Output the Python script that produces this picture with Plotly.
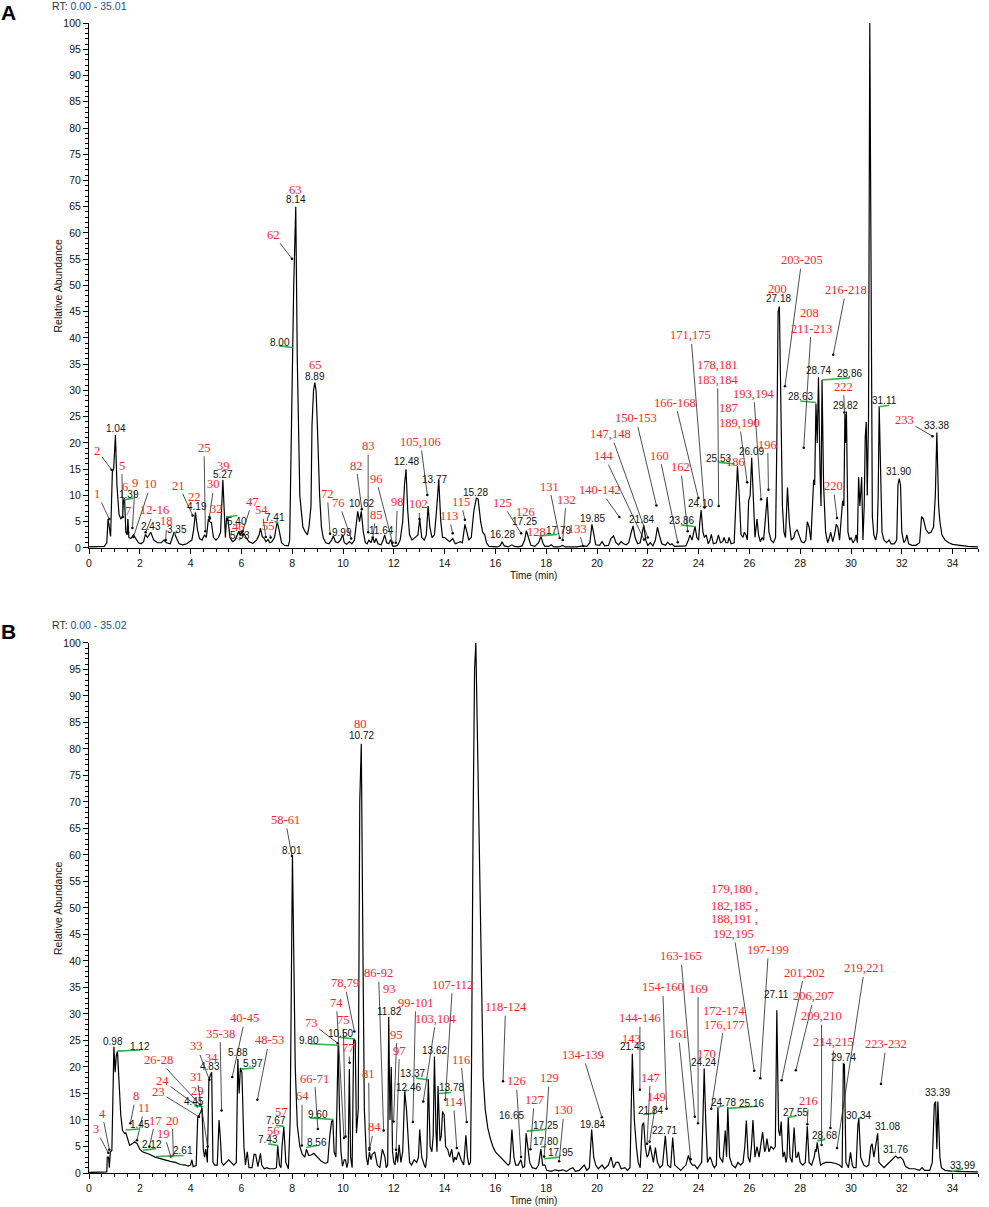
# -*- coding: utf-8 -*-
"""Two total ion chromatograms (A and B) with peak RT labels and compound numbers."""

import plotly.graph_objects as go

FIG_WIDTH = 989
FIG_HEIGHT = 1207

BLACK = "#111111"
RED = "#ff1f1f"
GREEN = "#2eb24a"
BLUE = "#2b4b9a"
SANS = "Liberation Sans, Arial, sans-serif"
SERIF = "Liberation Serif, Times New Roman, serif"

# ---------------------------------------------------------------- panel A data
TIME_A = [
    0.0, 0.3, 0.6, 0.7, 0.75, 0.8, 0.85, 0.92, 0.97, 1.04, 1.1, 1.18, 1.25, 1.32, 1.36, 1.4, 1.45, 1.5,
    1.53, 1.57, 1.65, 1.75, 1.85, 1.95, 2.05, 2.15, 2.22, 2.3, 2.43, 2.55, 2.7, 2.85, 2.95, 3.05, 3.2,
    3.35, 3.45, 3.55, 3.7, 3.85, 3.95, 4.05, 4.12, 4.19, 4.27, 4.35, 4.45, 4.55, 4.62, 4.7, 4.76, 4.82,
    4.9, 5.0, 5.1, 5.18, 5.27, 5.33, 5.37, 5.42, 5.48, 5.55, 5.65, 5.75, 5.85, 5.9, 5.95, 6.0, 6.05,
    6.1, 6.18, 6.3, 6.45, 6.6, 6.7, 6.75, 6.82, 6.9, 6.97, 7.05, 7.12, 7.2, 7.3, 7.41, 7.5, 7.58, 7.7,
    7.85, 7.9, 7.95, 8.0, 8.02, 8.06, 8.14, 8.2, 8.3, 8.42, 8.52, 8.6, 8.66, 8.7, 8.74, 8.78, 8.84,
    8.89, 8.94, 9.0, 9.08, 9.15, 9.22, 9.32, 9.45, 9.55, 9.62, 9.7, 9.8, 9.9, 9.99, 10.05, 10.15,
    10.25, 10.35, 10.45, 10.52, 10.58, 10.65, 10.72, 10.8, 10.88, 10.95, 11.02, 11.1, 11.17, 11.24,
    11.3, 11.38, 11.5, 11.58, 11.64, 11.72, 11.8, 11.88, 11.95, 12.05, 12.15, 12.25, 12.35, 12.42,
    12.48, 12.55, 12.62, 12.72, 12.85, 12.95, 13.02, 13.1, 13.2, 13.28, 13.35, 13.42, 13.5, 13.6,
    13.68, 13.77, 13.85, 13.92, 14.0, 14.1, 14.2, 14.32, 14.42, 14.52, 14.62, 14.7, 14.8, 14.88,
    14.95, 15.05, 15.15, 15.25, 15.32, 15.42, 15.5, 15.58, 15.65, 15.75, 15.9, 16.1, 16.2, 16.26,
    16.35, 16.5, 16.65, 16.75, 16.9, 17.05, 17.15, 17.22, 17.3, 17.4, 17.55, 17.7, 17.79, 17.88,
    17.95, 18.1, 18.2, 18.3, 18.5, 18.65, 18.75, 19.0, 19.2, 19.45, 19.6, 19.72, 19.8, 19.88, 19.95,
    20.1, 20.2, 20.3, 20.45, 20.55, 20.65, 20.75, 20.85, 20.95, 21.05, 21.15, 21.25, 21.35, 21.42,
    21.5, 21.6, 21.7, 21.78, 21.84, 21.92, 22.0, 22.1, 22.2, 22.3, 22.38, 22.45, 22.55, 22.7, 22.78,
    22.88, 22.95, 23.05, 23.3, 23.5, 23.6, 23.66, 23.74, 23.8, 23.86, 23.93, 24.0, 24.05, 24.1,
    24.17, 24.23, 24.3, 24.38, 24.45, 24.5, 24.58, 24.7, 24.78, 24.86, 24.95, 25.0, 25.08, 25.15,
    25.2, 25.28, 25.4, 25.47, 25.53, 25.6, 25.67, 25.75, 25.8, 25.86, 25.92, 25.97, 26.03, 26.09,
    26.16, 26.22, 26.3, 26.36, 26.43, 26.5, 26.56, 26.63, 26.7, 26.77, 26.85, 26.95, 27.03, 27.08,
    27.13, 27.18, 27.24, 27.3, 27.36, 27.42, 27.5, 27.57, 27.65, 27.75, 27.8, 27.88, 27.95, 28.05,
    28.15, 28.22, 28.28, 28.35, 28.42, 28.48, 28.53, 28.57, 28.62, 28.67, 28.72, 28.78, 28.82, 28.86,
    28.92, 29.0, 29.08, 29.15, 29.2, 29.28, 29.35, 29.42, 29.48, 29.55, 29.62, 29.67, 29.72, 29.76,
    29.79, 29.82, 29.88, 29.95, 30.0, 30.08, 30.15, 30.2, 30.25, 30.3, 30.35, 30.42, 30.47, 30.52,
    30.56, 30.6, 30.64, 30.69, 30.74, 30.79, 30.84, 30.9, 30.97, 31.03, 31.07, 31.11, 31.16, 31.22,
    31.3, 31.4, 31.5, 31.58, 31.7, 31.8, 31.85, 31.9, 31.95, 32.0, 32.08, 32.15, 32.2, 32.27, 32.4,
    32.55, 32.7, 32.78, 32.85, 32.95, 33.05, 33.15, 33.25, 33.32, 33.38, 33.45, 33.5, 33.58, 33.7,
    33.85, 34.0, 34.3, 34.6, 35.0,
]
ABUND_A = [
    0.2, 0.2, 0.3, 1.0, 5.5, 4.0, 2.2, 14.5, 15.0, 21.5, 12.0, 6.5, 5.5, 6.0, 9.2, 9.5, 3.0, 2.5,
    5.5, 2.0, 1.8, 2.5, 1.6, 1.0, 0.8, 1.2, 2.6, 2.0, 3.0, 1.5, 1.0, 1.0, 1.5, 1.0, 0.8,
    3.0, 1.8, 0.8, 0.6, 0.8, 1.2, 1.5, 3.5, 6.8, 3.5, 1.8, 1.5, 2.5, 2.0, 5.5, 5.0, 4.8,
    2.0, 1.5, 2.0, 3.0, 13.0, 4.0, 2.0, 6.0, 5.0, 2.0, 1.2, 1.5, 2.5, 3.2, 2.5, 3.0, 2.2,
    2.8, 2.0, 1.2, 0.9, 1.5, 2.5, 3.8, 2.2, 1.8, 1.2, 1.6, 1.0, 1.2, 2.0, 5.0, 3.0, 1.0, 0.5,
    0.4, 1.5, 20.0, 36.0, 35.5, 50.0, 65.0, 36.0, 10.0, 4.0, 3.0, 2.5, 4.0, 6.5, 8.0, 23.5, 30.0,
    31.5, 30.0, 22.0, 10.0, 4.0, 2.0, 1.0, 0.8, 1.5, 2.3, 1.2, 1.0, 1.5, 2.5, 1.0, 0.7,
    1.2, 0.8, 1.5, 5.0, 7.0, 5.0, 7.0, 3.0, 1.0, 0.8, 1.5, 1.0, 2.0, 1.0,
    1.8, 0.8, 0.6, 1.5, 2.5, 1.0, 0.8, 1.6, 0.4, 0.3, 0.5, 1.5, 5.0, 12.0,
    15.0, 7.0, 2.5, 1.5, 2.0, 2.5, 5.5, 2.0, 1.5, 2.5, 8.0, 4.0, 2.0, 2.5,
    7.0, 13.0, 5.0, 2.0, 2.0, 1.5, 1.2, 1.8, 0.8, 1.0, 1.2, 1.0, 4.5, 3.0,
    1.5, 2.0, 7.0, 9.5, 9.3, 5.0, 3.0, 2.5, 1.0, 0.3, 0.2, 0.2, 0.5, 1.2,
    0.4, 0.2, 0.6, 0.3, 0.2, 0.4, 1.5, 3.3, 2.0, 0.5, 0.3, 1.0, 2.2, 0.8,
    0.3, 0.3, 0.6, 0.2, 0.2, 0.5, 0.2, 0.2, 0.2, 0.4, 0.3, 1.0, 4.5, 2.5, 0.6,
    0.5, 1.2, 0.4, 0.5, 1.8, 2.3, 1.0, 0.6, 1.2, 0.8, 0.6, 1.0, 3.0, 4.2,
    2.0, 0.8, 1.0, 3.0, 4.3, 1.5, 0.5, 1.0, 0.4, 1.5, 4.0, 2.5, 0.8, 0.5, 1.1,
    0.6, 0.8, 0.3, 0.3, 0.4, 1.5, 2.5, 1.5, 3.0, 4.1, 2.0, 1.5, 5.0, 7.2,
    3.0, 2.0, 2.5, 0.8, 1.5, 2.6, 0.8, 1.0, 2.5, 1.0, 1.2, 2.0, 1.0, 1.0,
    2.0, 0.8, 1.0, 8.0, 15.6, 10.0, 2.5, 2.0, 3.0, 2.5, 1.5, 9.0, 10.0, 17.2,
    8.0, 2.0, 5.5, 2.5, 1.2, 2.0, 1.5, 6.0, 9.7, 3.0, 1.5, 1.0, 2.0, 20.0,
    45.0, 46.0, 30.0, 8.0, 3.0, 2.0, 11.5, 5.0, 1.5, 2.0, 3.0, 3.5, 2.5, 1.2,
    1.0, 1.5, 5.0, 4.0, 1.5, 9.0, 13.0, 12.0, 27.5, 20.0, 32.5, 15.0, 8.0, 32.0,
    12.0, 3.0, 1.0, 2.0, 3.0, 1.2, 2.5, 4.5, 4.0, 1.5, 6.0, 9.0, 8.0, 25.5,
    20.0, 26.0, 3.0, 1.5, 2.0, 1.0, 1.5, 2.5, 1.0, 13.5, 8.0, 13.5, 1.5, 8.0,
    21.0, 24.0, 10.0, 25.0, 100.0, 40.0, 6.0, 2.5, 1.5, 3.0, 10.0, 27.0, 15.0, 3.0,
    1.5, 1.0, 1.5, 0.8, 0.8, 1.5, 12.0, 13.2, 12.0, 3.0, 1.0, 1.5, 2.5, 0.8, 0.5,
    0.5, 1.0, 6.0, 5.5, 3.5, 2.8, 3.0, 4.0, 10.0, 22.0, 8.0, 5.0, 2.5, 1.5,
    1.0, 0.7, 0.5, 0.3, 0.2,
]

# peak retention-time labels: (text, time, abundance)
RT_LABELS_A = [
    ("1.04", 1.06, 22.7), ("1.39", 1.57, 10.2), ("2.43", 2.43, 4.1), ("3.35", 3.45, 3.6),
    ("4.19", 4.24, 7.9), ("5.27", 5.29, 14.0), ("5.40", 5.84, 5.1), ("5.93", 5.94, 2.4),
    ("7.41", 7.32, 5.8), ("8.00", 7.52, 39.1), ("8.14", 8.14, 66.3), ("8.89", 8.90, 32.7),
    ("9.99", 9.98, 2.9), ("10.62", 10.74, 8.5), ("11.64", 11.50, 3.3), ("12.48", 12.49, 16.5),
    ("13.77", 13.60, 13.1), ("15.28", 15.23, 10.6), ("16.28", 16.26, 2.5), ("17.25", 17.14, 5.0),
    ("17.79", 18.48, 3.3), ("19.85", 19.81, 5.7), ("21.84", 21.75, 5.5), ("23.86", 23.31, 5.2),
    ("24.10", 24.06, 8.5), ("25.53", 24.79, 17.0), ("26.09", 26.07, 18.4), ("27.18", 27.14, 47.5),
    ("28.63", 28.01, 28.8), ("28.74", 28.71, 33.8), ("28.86", 29.96, 33.2), ("29.82", 29.80, 27.2),
    ("30.74", 30.72, 101.2), ("31.11", 31.31, 28.0), ("31.90", 31.88, 14.6), ("33.38", 33.37, 23.3),
]

# compound numbers: (text, label time, label abundance, pointer time, pointer abundance)
COMPOUNDS_A = [
    ("1", 0.33, 10.3, 0.80, 5.5), ("2", 0.33, 18.5, 0.89, 14.9), ("5", 1.29, 15.7, 1.33, 5.9),
    ("6", 1.43, 11.7, None, None), ("7", 1.52, 7.0, 1.54, 2.9), ("9", 1.82, 12.4, 1.71, 3.8),
    ("10", 2.43, 12.1, 1.75, 2.1), ("12-16", 2.58, 7.2, 2.23, 3.0), ("18", 3.06, 5.1, 3.02, 1.5),
    ("21", 3.54, 11.9, 4.08, 6.2), ("22", 4.15, 9.7, None, None), ("25", 4.53, 19.1, 4.58, 3.2),
    ("30", 4.92, 12.1, 4.74, 5.9), ("32", 5.00, 7.4, 4.76, 5.6), ("39", 5.28, 15.6, None, None),
    ("46", 5.88, 4.0, None, None), ("47", 6.43, 8.8, 6.05, 3.2), ("54", 6.81, 7.2, 6.96, 2.1),
    ("55", 7.07, 4.2, 7.15, 2.0), ("62", 7.26, 59.7, 7.99, 55.1), ("63", 8.14, 68.2, None, None),
    ("65", 8.90, 34.8, None, None), ("72", 9.38, 10.3, 9.49, 2.7), ("76", 9.84, 8.6, 10.32, 1.8),
    ("82", 10.52, 15.7, 10.74, 7.4), ("83", 10.99, 19.4, 10.99, 3.0), ("85", 11.30, 6.3, 11.17, 2.0),
    ("96", 11.30, 13.2, 11.95, 1.0), ("98", 12.14, 8.7, 12.08, 1.0), ("102", 12.99, 8.3, 13.01, 5.5),
    ("105,106", 13.05, 20.2, 13.32, 10.1), ("113", 14.16, 6.1, 14.32, 2.8),
    ("115", 14.64, 8.8, 14.80, 5.4), ("125", 16.26, 8.6, 17.01, 2.8), ("126", 17.18, 6.8, None, None),
    ("128", 17.62, 3.0, None, None), ("131", 18.12, 11.7, 18.53, 1.9), ("132", 18.79, 9.2, 18.65, 1.5),
    ("133", 19.25, 3.7, 19.45, 0.4), ("140-142", 20.13, 11.0, 20.88, 5.9),
    ("144", 20.29, 17.5, 21.85, 1.6), ("147,148", 20.55, 21.7, 22.00, 2.0),
    ("150-153", 21.53, 24.7, 22.34, 8.1), ("160", 22.46, 17.6, 23.18, 1.1),
    ("162", 23.29, 15.4, 23.57, 3.2), ("166-168", 23.08, 27.7, 23.99, 9.5),
    ("171,175", 23.70, 40.5, 24.23, 7.7), ("178,181", 24.75, 34.9, None, None),
    ("183,184", 24.75, 32.0, 24.79, 8.0), ("187", 25.19, 26.7, None, None),
    ("189,190", 25.61, 23.8, 25.91, 12.5), ("186", 25.44, 16.3, None, None),
    ("193,194", 26.17, 29.4, 26.46, 9.3), ("196", 26.72, 19.7, 26.75, 11.1),
    ("200", 27.11, 49.4, None, None), ("203-205", 28.06, 54.8, 27.40, 30.8),
    ("208", 28.36, 44.7, None, None), ("211-213", 28.43, 41.8, 28.14, 19.1),
    ("216-218", 29.80, 49.1, 29.30, 36.8), ("222", 29.71, 30.7, 29.74, 25.8),
    ("220", 29.30, 11.8, 29.45, 5.7), ("233", 32.10, 24.4, 33.21, 21.3),
]

# green baseline ticks left by the peak labeller: (t0, a0, t1, a1)
GREEN_A = [
    (1.39, 9.2, 1.75, 9.5), (3.35, 2.6, 3.45, 3.0), (5.39, 5.9, 5.84, 6.2), (5.90, 1.5, 6.00, 2.0),
    (7.30, 5.1, 7.45, 4.8), (7.49, 38.5, 8.02, 38.2), (17.73, 2.3, 18.44, 2.6),
    (23.31, 4.4, 23.84, 4.1), (24.80, 16.3, 25.44, 16.0), (28.00, 28.0, 28.62, 27.7),
    (28.85, 32.0, 29.96, 32.4), (31.09, 26.9, 31.51, 27.2),
]

# ---------------------------------------------------------------- panel B data
TIME_B = [
    0.0, 0.3, 0.6, 0.7, 0.72, 0.77, 0.8, 0.84, 0.9, 0.95, 0.98, 1.03, 1.07, 1.12, 1.18, 1.25, 1.32,
    1.4, 1.45, 1.52, 1.6, 1.7, 1.8, 1.9, 2.0, 2.1, 2.25, 2.4, 2.6, 2.8, 3.0, 3.2, 3.4, 3.6, 3.8, 3.9,
    4.0, 4.05, 4.1, 4.22, 4.28, 4.35, 4.4, 4.45, 4.5, 4.55, 4.6, 4.66, 4.72, 4.78, 4.83, 4.88, 4.95,
    5.05, 5.12, 5.18, 5.22, 5.3, 5.42, 5.5, 5.6, 5.7, 5.8, 5.86, 5.91, 5.96, 6.02, 6.1, 6.16, 6.23,
    6.3, 6.42, 6.5, 6.56, 6.65, 6.75, 6.8, 6.9, 7.0, 7.1, 7.2, 7.3, 7.38, 7.43, 7.5, 7.56, 7.6, 7.67,
    7.75, 7.85, 7.92, 7.96, 8.01, 8.06, 8.12, 8.2, 8.3, 8.4, 8.5, 8.56, 8.65, 8.75, 8.85, 8.95, 9.05,
    9.15, 9.3, 9.4, 9.48, 9.55, 9.6, 9.65, 9.72, 9.77, 9.81, 9.86, 9.92, 9.98, 10.05, 10.1, 10.15,
    10.2, 10.25, 10.3, 10.36, 10.42, 10.48, 10.53, 10.6, 10.66, 10.72, 10.78, 10.84, 10.92, 10.98,
    11.04, 11.1, 11.15, 11.25, 11.35, 11.45, 11.55, 11.65, 11.7, 11.76, 11.8, 11.85, 11.9, 11.95,
    12.0, 12.05, 12.1, 12.15, 12.21, 12.28, 12.35, 12.43, 12.5, 12.55, 12.62, 12.7, 12.8, 12.9,
    12.97, 13.02, 13.1, 13.2, 13.25, 13.3, 13.36, 13.43, 13.5, 13.55, 13.6, 13.66, 13.7, 13.74,
    13.82, 13.87, 13.92, 13.98, 14.04, 14.12, 14.2, 14.28, 14.35, 14.4, 14.46, 14.55, 14.65, 14.75,
    14.84, 14.9, 14.96, 15.02, 15.06, 15.12, 15.18, 15.23, 15.27, 15.32, 15.38, 15.45, 15.52, 15.6,
    15.7, 15.8, 15.9, 16.0, 16.1, 16.2, 16.3, 16.4, 16.5, 16.57, 16.65, 16.73, 16.8, 16.9, 17.0,
    17.08, 17.15, 17.21, 17.28, 17.35, 17.45, 17.6, 17.7, 17.79, 17.86, 17.95, 18.02, 18.2, 18.35,
    18.5, 18.65, 18.8, 18.95, 19.05, 19.15, 19.3, 19.5, 19.6, 19.7, 19.79, 19.87, 19.95, 20.05, 20.2,
    20.3, 20.45, 20.55, 20.65, 20.75, 20.85, 20.95, 21.1, 21.2, 21.3, 21.39, 21.47, 21.55, 21.62,
    21.7, 21.78, 21.84, 21.9, 21.97, 22.03, 22.09, 22.15, 22.22, 22.3, 22.38, 22.48, 22.58, 22.69,
    22.78, 22.9, 22.98, 23.06, 23.2, 23.3, 23.4, 23.5, 23.6, 23.68, 23.76, 23.85, 23.95, 24.05,
    24.12, 24.17, 24.22, 24.28, 24.35, 24.45, 24.5, 24.56, 24.62, 24.7, 24.76, 24.83, 24.9, 24.95,
    25.0, 25.05, 25.1, 25.15, 25.22, 25.32, 25.45, 25.55, 25.65, 25.75, 25.82, 25.88, 25.95, 26.02,
    26.08, 26.14, 26.22, 26.3, 26.38, 26.52, 26.6, 26.64, 26.69, 26.77, 26.85, 26.95, 27.02, 27.08,
    27.15, 27.2, 27.25, 27.32, 27.38, 27.44, 27.48, 27.53, 27.6, 27.68, 27.76, 27.83, 27.88, 27.93,
    28.0, 28.1, 28.2, 28.28, 28.35, 28.45, 28.55, 28.6, 28.63, 28.67, 28.75, 28.8, 28.9, 29.0, 29.2,
    29.4, 29.55, 29.65, 29.7, 29.74, 29.8, 29.9, 29.98, 30.05, 30.1, 30.2, 30.27, 30.31, 30.38, 30.5,
    30.6, 30.7, 30.78, 30.83, 30.9, 30.98, 31.05, 31.1, 31.2, 31.3, 31.4, 31.5, 31.6, 31.7, 31.76,
    31.85, 31.95, 32.05, 32.15, 32.3, 32.5, 32.7, 32.8, 32.9, 33.1, 33.2, 33.28, 33.33, 33.38, 33.42,
    33.5, 33.56, 33.7, 34.0, 34.5, 35.0,
]
ABUND_B = [
    0.1, 0.1, 0.1, 0.2, 3.0, 3.0, 1.0, 4.0, 4.2, 23.5, 23.8, 19.0, 22.0, 23.0, 17.0, 11.0, 8.0,
    7.5, 7.6, 6.5, 5.2, 5.5, 5.9, 5.5, 4.5, 4.0, 3.8, 3.5, 3.0, 2.7, 2.4, 2.2, 2.0, 1.6, 1.5, 1.3,
    1.5, 2.5, 1.2, 1.4, 10.5, 11.0, 11.5, 12.3, 4.5, 3.0, 4.5, 2.0, 17.5, 18.5, 19.0, 2.0, 1.5,
    1.5, 10.0, 6.0, 2.0, 1.5, 2.0, 2.5, 2.0, 1.5, 2.0, 21.5, 15.0, 19.8, 19.0, 5.0, 1.5, 4.0,
    1.0, 1.0, 3.5, 3.5, 1.2, 3.7, 1.5, 0.8, 1.0, 0.8, 0.8, 0.8, 1.0, 5.2, 1.5, 1.0, 5.0, 8.7,
    2.0, 0.8, 10.0, 40.0, 60.0, 42.0, 20.0, 9.0, 5.0, 3.5, 3.0, 4.5, 3.3, 3.4, 3.7, 3.2, 2.7,
    2.2, 1.8, 2.0, 7.0, 9.7, 10.0, 4.0, 3.0, 15.0, 24.2, 12.0, 4.0, 1.3, 2.5, 2.5, 1.0,
    2.0, 19.6, 3.0, 1.0, 25.3, 25.0, 7.5, 12.0, 70.0, 81.0, 45.0, 12.0, 3.0, 1.5,
    4.0, 2.5, 3.5, 4.0, 1.5, 1.0, 4.5, 3.0, 1.0, 1.5, 29.5, 10.0, 20.0, 4.0,
    2.0, 1.5, 4.0, 2.0, 5.3, 2.0, 4.0, 15.4, 12.0, 8.0, 2.0, 1.5, 2.5, 2.0,
    3.0, 8.2, 3.0, 1.5, 1.0, 3.0, 17.7, 5.0, 4.0, 7.0, 22.0, 8.0, 4.0, 16.4,
    6.0, 7.0, 11.6, 11.0, 5.0, 4.5, 3.0, 4.5, 2.0, 3.0, 2.5, 4.0, 2.5, 1.5,
    7.1, 3.0, 1.5, 2.0, 20.0, 65.0, 95.0, 100.0, 88.0, 76.0, 55.0, 32.0, 18.0, 12.0,
    8.5, 6.5, 5.0, 4.0, 3.5, 3.0, 2.5, 2.0, 1.5, 1.8, 8.2, 3.0, 1.5, 1.5, 2.5,
    1.0, 1.2, 7.5, 5.0, 2.0, 1.0, 0.8, 1.5, 4.5, 1.5, 1.5, 0.5, 0.3, 0.6,
    0.4, 0.6, 0.3, 0.8, 1.0, 0.3, 0.5, 1.5, 0.5, 1.0, 8.2, 3.0, 1.5, 0.8, 1.5,
    0.8, 1.5, 3.0, 1.0, 2.0, 2.0, 0.8, 1.0, 0.5, 1.0, 22.5, 10.0, 5.0, 2.0,
    1.0, 9.0, 9.5, 5.0, 3.0, 3.5, 5.2, 4.0, 2.0, 4.8, 2.0, 1.0, 1.5, 7.0,
    1.5, 1.0, 6.7, 1.5, 0.8, 0.5, 1.0, 1.5, 3.3, 2.0, 1.5, 1.5, 0.8, 1.5,
    2.0, 10.0, 19.7, 10.0, 2.0, 3.0, 2.5, 1.5, 1.0, 1.5, 12.4, 3.0, 2.5, 2.0,
    5.0, 8.0, 3.0, 12.4, 3.0, 1.5, 1.0, 2.0, 1.5, 2.0, 5.0, 9.9, 3.0, 2.0,
    5.0, 10.0, 3.0, 5.0, 3.0, 7.7, 4.0, 4.5, 6.5, 4.0, 5.0, 4.5, 5.0, 30.7,
    8.0, 7.0, 9.7, 3.0, 4.0, 2.0, 3.0, 10.5, 3.0, 2.0, 8.6, 3.0, 3.0, 4.0,
    2.0, 1.5, 2.0, 8.8, 2.0, 1.5, 3.0, 4.5, 4.0, 5.8, 3.0, 1.5, 1.8, 2.0, 2.0,
    1.8, 1.5, 1.0, 20.6, 20.5, 2.0, 1.0, 3.9, 1.5, 1.0, 1.0, 9.0, 10.2, 3.0, 1.5,
    1.2, 1.5, 5.0, 5.5, 3.0, 5.0, 7.5, 2.0, 1.5, 1.0, 1.5, 2.0, 2.5, 3.0, 3.2,
    2.8, 3.0, 2.5, 1.2, 0.8, 0.8, 0.5, 1.0, 0.5, 0.5, 2.0, 13.0, 13.5, 4.5, 13.5,
    3.0, 1.0, 0.5, 0.3, 0.2, 0.2,
]

RT_LABELS_B = [
    ("0.98", 0.95, 24.8), ("1.12", 2.02, 23.9), ("1.45", 2.02, 9.1), ("2.12", 2.48, 5.3),
    ("2.61", 3.69, 4.2), ("4.45", 4.15, 13.4), ("4.83", 4.77, 20.1), ("5.88", 5.85, 22.8),
    ("5.97", 6.46, 20.6), ("7.43", 7.05, 6.4), ("7.67", 7.35, 9.9), ("8.01", 8.00, 60.8),
    ("8.56", 8.98, 5.8), ("9.60", 9.01, 11.0), ("9.80", 8.66, 25.0), ("10.50", 9.91, 26.4),
    ("10.72", 10.72, 82.6), ("11.82", 11.84, 30.5), ("12.46", 12.56, 16.2), ("13.37", 12.75, 18.7),
    ("13.62", 13.61, 23.1), ("13.78", 14.29, 16.2), ("15.23", 15.23, 101.3), ("16.65", 16.65, 10.8),
    ("17.25", 17.96, 8.9), ("17.80", 17.99, 6.0), ("17.95", 18.57, 3.8), ("19.84", 19.81, 9.1),
    ("21.43", 21.40, 23.8), ("21.84", 22.10, 11.8), ("22.71", 22.65, 8.1), ("24.24", 24.21, 20.9),
    ("24.78", 24.97, 13.3), ("25.16", 26.10, 13.2), ("27.11", 27.08, 33.6), ("27.55", 27.83, 11.4),
    ("28.68", 28.94, 7.0), ("29.74", 29.72, 21.7), ("30.34", 30.31, 10.8), ("31.08", 31.44, 8.7),
    ("31.76", 31.77, 4.5), ("33.39", 33.39, 15.1), ("33.99", 34.37, 1.4),
]

COMPOUNDS_B = [
    ("3", 0.26, 8.3, 0.76, 3.8), ("4", 0.52, 11.2, 0.80, 4.4), ("8", 1.84, 14.5, 1.63, 9.4),
    ("11", 2.18, 12.3, 1.89, 6.2), ("17", 2.61, 9.9, 2.38, 5.0), ("19", 2.95, 7.4, 3.22, 3.1),
    ("20", 3.28, 9.9, 3.32, 3.3), ("23", 2.74, 15.3, 4.33, 10.6), ("24", 2.90, 17.4, 4.27, 12.6),
    ("26-28", 2.74, 21.3, 4.37, 12.9), ("29", 4.27, 15.5, None, None), ("31", 4.24, 18.2, 4.67, 5.0),
    ("33", 4.24, 23.9, 4.74, 17.6), ("34", 4.84, 21.7, None, None), ("35-38", 5.16, 26.3, 5.22, 11.8),
    ("40-45", 6.14, 29.2, 5.64, 18.1), ("48-53", 7.09, 25.0, 6.63, 13.8), ("56", 7.28, 7.9, None, None),
    ("57", 7.57, 11.6, None, None), ("58-61", 7.73, 66.6, 7.99, 59.8), ("64", 8.39, 14.5, 8.38, 5.2),
    ("66-71", 8.88, 17.8, 9.01, 8.3), ("73", 8.75, 28.3, 9.79, 24.5), ("74", 9.74, 32.1, 10.04, 6.6),
    ("75", 10.01, 28.8, 10.10, 6.9), ("77", 10.22, 23.6, 10.26, 20.8),
    ("78,79", 10.06, 35.8, 10.45, 26.7), ("80", 10.70, 84.7, None, None),
    ("81", 11.01, 18.6, 11.04, 4.7), ("84", 11.23, 8.6, 11.04, 4.4), ("86-92", 11.40, 37.7, 11.60, 8.0),
    ("93", 11.84, 34.8, None, None), ("95", 12.12, 26.1, 11.99, 9.7), ("97", 12.22, 23.1, 12.09, 4.4),
    ("99-101", 12.86, 32.1, 12.75, 9.6), ("103,104", 13.66, 29.1, 13.16, 13.5),
    ("107-112", 14.31, 35.5, 14.03, 13.8), ("114", 14.35, 13.4, 14.48, 4.7),
    ("116", 14.64, 21.4, 14.87, 9.6), ("117", 15.23, 103.4, None, None),
    ("118-124", 16.40, 31.3, 16.30, 17.3), ("126", 16.82, 17.3, 17.01, 3.0),
    ("127", 17.53, 13.8, 17.38, 4.5), ("129", 18.12, 17.9, 17.92, 3.1), ("130", 18.70, 11.8, 18.51, 2.2),
    ("134-139", 19.44, 22.3, 20.19, 10.5), ("143", 21.36, 25.3, None, None),
    ("144-146", 21.69, 29.2, 21.69, 15.7), ("147", 22.10, 18.0, 21.97, 5.5),
    ("149", 22.35, 14.3, 22.07, 5.9), ("154-160", 22.59, 35.0, 22.74, 12.1),
    ("161", 23.21, 26.2, 23.69, 2.6), ("163-165", 23.30, 40.9, 23.85, 10.6),
    ("169", 23.98, 34.8, 23.98, 9.4), ("170", 24.30, 22.5, None, None),
    ("172-174", 25.00, 30.6, None, None), ("176,177", 25.00, 28.0, 24.50, 12.1),
    ("179,180 ,", 25.42, 53.6, None, None), ("182,185 ,", 25.42, 50.4, None, None),
    ("188,191 ,", 25.42, 47.9, None, None), ("192,195", 25.39, 45.1, 26.19, 19.3),
    ("197-199", 26.75, 42.1, 26.43, 17.9), ("201,202", 28.16, 37.8, 27.27, 17.5),
    ("206,207", 28.54, 33.3, 27.83, 19.4), ("209,210", 28.84, 29.6, 28.84, 5.3),
    ("214,215", 29.32, 24.7, 29.19, 8.5), ("216", 28.32, 13.6, 28.28, 9.2),
    ("219,221", 30.53, 38.6, 29.45, 4.7), ("223-232", 31.38, 24.3, 31.18, 16.8),
]

GREEN_B = [
    (1.11, 23.0, 2.02, 23.2), (1.44, 8.1, 1.96, 8.3), (2.13, 4.3, 2.64, 4.6), (2.64, 3.1, 3.72, 3.3),
    (4.15, 12.7, 4.50, 12.5), (5.98, 19.6, 6.49, 19.8), (7.05, 5.5, 7.44, 5.2), (7.35, 9.0, 7.68, 8.8),
    (8.55, 4.8, 8.98, 5.2), (8.71, 10.4, 9.63, 10.1), (8.71, 24.4, 9.83, 24.1),
    (9.83, 25.6, 10.45, 25.3), (12.43, 15.4, 12.53, 15.7), (12.88, 17.9, 13.35, 17.6),
    (13.77, 15.0, 14.26, 15.2), (17.23, 7.9, 17.96, 8.2), (17.79, 4.9, 17.99, 5.0),
    (17.92, 2.7, 18.51, 3.0), (21.82, 11.0, 22.27, 11.3), (24.76, 12.4, 24.97, 12.7),
    (25.15, 12.2, 26.30, 12.6), (27.53, 10.5, 27.86, 10.8), (28.67, 6.1, 28.97, 6.3),
    (30.31, 10.2, 30.40, 10.5), (33.98, 0.3, 34.40, 0.75),
]

PANELS = [
    # (x axis, y axis, times, abundances, rt labels, compounds, green ticks)
    ("x", "y", TIME_A, ABUND_A, RT_LABELS_A, COMPOUNDS_A, GREEN_A),
    ("x2", "y2", TIME_B, ABUND_B, RT_LABELS_B, COMPOUNDS_B, GREEN_B),
]

# plot area in pixels: left 89, right 978, panel A 23-548, panel B 643-1173
MARGIN = dict(l=89, r=11, t=23, b=34)
DOMAIN_A = [0.5435, 1.0]
DOMAIN_B = [0.0, 0.4609]

# the page would otherwise keep the browser's 8 px body margin around the figure
NO_BODY_MARGIN = "document.body.style.margin = '0';"


def axis_style(domain, anchor, is_x):
    """Xcalibur-like axis: black line, outside ticks, minor ladder ticks."""
    common = dict(
        showline=True, linecolor="black", linewidth=1, showgrid=False, zeroline=False,
        ticks="outside", ticklen=5, tickwidth=1, tickcolor="black",
        tickfont=dict(family=SANS, size=10.5, color=BLACK), anchor=anchor,
    )
    if is_x:
        common.update(range=[0, 35], dtick=2, tick0=0,
                      minor=dict(dtick=0.5, ticklen=3, ticks="outside", tickcolor="black"))
    else:
        common.update(range=[0, 100], dtick=5, tick0=0, domain=domain,
                      minor=dict(dtick=1, ticklen=3, ticks="outside", tickcolor="black"))
    return common


fig = go.Figure()
annotations = []
shapes = []

for xa, ya, times, abund, rt_labels, compounds, greens in PANELS:
    fig.add_trace(go.Scatter(
        x=times, y=abund, mode="lines", xaxis=xa, yaxis=ya,
        line=dict(color="black", width=1.2), hoverinfo="x+y", showlegend=False,
    ))

    # little dots where the pointer lines end
    tips = [c for c in compounds if c[3] is not None]
    fig.add_trace(go.Scatter(
        x=[c[3] for c in tips], y=[c[4] for c in tips], mode="markers", xaxis=xa, yaxis=ya,
        marker=dict(color="black", size=2.5), hoverinfo="skip", showlegend=False,
    ))

    for text, t, a in rt_labels:
        annotations.append(dict(
            text=text, x=t, y=a, xref=xa, yref=ya, showarrow=False,
            font=dict(family=SANS, size=10, color=BLACK), yanchor="middle",
        ))

    for text, lt, la, pt, pa in compounds:
        item = dict(text=text, xref=xa, yref=ya, font=dict(family=SERIF, size=12.5, color=RED))
        if pt is None:
            item.update(x=lt, y=la, showarrow=False, yanchor="middle")
        else:
            item.update(x=pt, y=pa, ax=lt, ay=la, axref=xa, ayref=ya, showarrow=True,
                        arrowhead=0, arrowwidth=0.8, arrowcolor="#222222", standoff=0)
        annotations.append(item)

    for t0, a0, t1, a1 in greens:
        shapes.append(dict(type="line", xref=xa, yref=ya, x0=t0, y0=a0, x1=t1, y1=a1,
                           line=dict(color=GREEN, width=1.6)))

# panel furniture in paper coordinates (paper y = (1173 - px) / 1150)
for letter, rt_range, top_y, title_y, time_y in [
    ("A", "0.00 - 35.01", 1.0091, 0.7717, 0.520),
    ("B", "0.00 - 35.02", 0.4713, 0.2304, -0.0235),
]:
    annotations.append(dict(text="<b>%s</b>" % letter, x=-0.090, y=top_y, xref="paper", yref="paper",
                            showarrow=False, xanchor="center", yanchor="middle",
                            font=dict(family=SANS, size=21, color="black")))
    annotations.append(dict(text="RT: <span style='color:%s'>%s</span>" % (BLUE, rt_range),
                            x=-0.0439, y=top_y + 0.0055, xref="paper", yref="paper", showarrow=False,
                            xanchor="left", yanchor="middle",
                            font=dict(family=SANS, size=10.5, color="#333333")))
    annotations.append(dict(text="Relative Abundance", x=-0.0349, y=title_y, xref="paper", yref="paper",
                            showarrow=False, textangle=-90, xanchor="center", yanchor="middle",
                            font=dict(family=SANS, size=10.5, color=BLACK)))
    annotations.append(dict(text="Time (min)", x=0.5, y=time_y, xref="paper", yref="paper",
                            showarrow=False, xanchor="center", yanchor="middle",
                            font=dict(family=SANS, size=10, color=BLACK)))

fig.update_layout(
    width=FIG_WIDTH, height=FIG_HEIGHT, autosize=False, margin=MARGIN,
    plot_bgcolor="white", paper_bgcolor="white", showlegend=False,
    xaxis=axis_style(None, "y", True), yaxis=axis_style(DOMAIN_A, "x", False),
    xaxis2=axis_style(None, "y2", True), yaxis2=axis_style(DOMAIN_B, "x2", False),
    annotations=annotations, shapes=shapes,
)

fig.write_html("out.html", post_script=NO_BODY_MARGIN, config={"displayModeBar": False})
